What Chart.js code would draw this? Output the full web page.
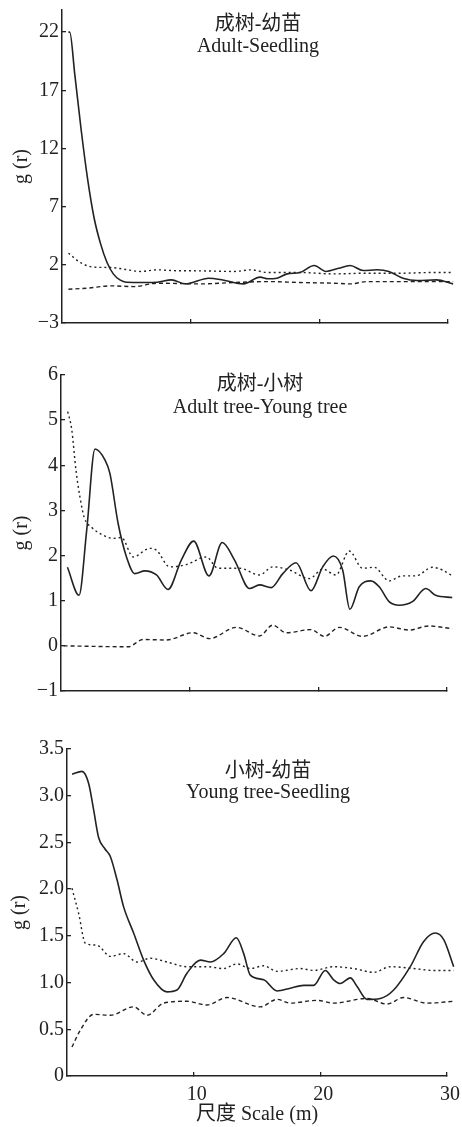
<!DOCTYPE html>
<html>
<head>
<meta charset="utf-8">
<script src="https://cdn.jsdelivr.net/npm/chart.js@4.4.1/dist/chart.umd.min.js"></script>
<style>
  body { margin: 0; background: #fff; }
  #wrap { position: relative; width: 462px; height: 1127px; overflow: hidden; }
  canvas { position: absolute; left: 0; }
</style>
</head>
<body>
<div id="wrap">
  <canvas id="panel1" style="top:-20px"></canvas>
  <canvas id="panel2" style="top:340px"></canvas>
  <canvas id="panel3" style="top:708px"></canvas>
</div>
<script>
// ========= Datos =========
// Adult-Seedling
const adSeedObsX = [0.5, 0.6, 1, 1.5, 2, 2.5, 3, 3.5, 4, 4.5, 5, 6.4, 7.4, 8.5, 9.6, 11.4, 12.5, 14.1, 15.4, 16, 16.7, 17.5, 18.5, 19.6, 20.5, 21.5, 22.4, 23.4, 24.5, 25.4, 26.5, 27.6, 29.1, 30.4];
const adSeedObsY = [22, 22, 18.3, 13.5, 9.3, 6, 3.8, 2.2, 1.2, 0.7, 0.5, 0.48, 0.5, 0.71, 0.36, 0.85, 0.7, 0.36, 0.94, 0.8, 0.85, 1.22, 1.34, 1.94, 1.43, 1.7, 1.94, 1.51, 1.57, 1.43, 0.85, 0.65, 0.71, 0.36];
const adSeedUpX = [0.5, 1.5, 2.5, 3.8, 4.8, 6.1, 7.4, 8.7, 10.8, 13.4, 14.7, 16, 18.5, 21.1, 23.7, 26.3, 28.8, 30.4];
const adSeedUpY = [3.0, 2.15, 1.8, 1.77, 1.63, 1.43, 1.57, 1.5, 1.48, 1.43, 1.57, 1.34, 1.34, 1.22, 1.28, 1.28, 1.34, 1.34];
const adSeedLowX = [0.5, 2, 3.8, 5.6, 7.4, 10.8, 13.4, 16, 18.5, 21.1, 22.4, 23.7, 26.3, 28.8, 30.4];
const adSeedLowY = [-0.1, 0, 0.19, 0.13, 0.42, 0.36, 0.48, 0.56, 0.48, 0.42, 0.36, 0.56, 0.56, 0.56, 0.56];

// Adult tree-Young tree
const adYoungObsX = [0.5, 1.4, 2.0, 2.64, 3.41, 3.8, 4.44, 5.09, 5.74, 6.51, 7.42, 8.32, 9.35, 10.31, 11.5, 12.53, 13.49, 14.65, 15.43, 16.33, 17.24, 18.27, 19.43, 20.34, 21.16, 21.89, 22.45, 23.18, 24.08, 24.73, 25.5, 26.28, 27.31, 28.35, 29.12, 30.41];
const adYoungObsY = [1.74, 1.12, 2.57, 4.36, 4.12, 3.82, 2.71, 1.97, 1.6, 1.66, 1.57, 1.25, 1.9, 2.32, 1.55, 2.29, 1.9, 1.27, 1.35, 1.29, 1.6, 1.84, 1.22, 1.75, 1.99, 1.68, 0.81, 1.31, 1.44, 1.31, 0.98, 0.9, 0.98, 1.27, 1.12, 1.07];
const adYoungUpX = [0.52, 0.83, 1.16, 1.47, 1.8, 2.4, 3.28, 4.06, 4.7, 5.61, 6.9, 7.42, 8.45, 9.74, 11.29, 12.2, 13.88, 15.43, 16.46, 17.75, 19.3, 20.34, 21.37, 22.4, 23.44, 24.34, 25.5, 26.54, 27.57, 28.86, 29.64, 30.41];
const adYoungUpY = [5.19, 4.8, 3.9, 3.3, 2.85, 2.62, 2.45, 2.38, 2.4, 1.97, 2.16, 2.12, 1.75, 1.8, 1.97, 1.72, 1.72, 1.57, 1.75, 1.68, 1.49, 1.7, 1.57, 2.1, 1.72, 1.74, 1.44, 1.55, 1.55, 1.74, 1.68, 1.55];
const adYoungLowX = [0.2, 5.22, 6.38, 8.19, 10.26, 11.55, 13.62, 15.43, 16.46, 17.49, 19.43, 20.47, 21.63, 23.44, 25.5, 27.05, 28.6, 30.41];
const adYoungLowY = [0, -0.02, 0.14, 0.13, 0.29, 0.16, 0.41, 0.22, 0.46, 0.29, 0.36, 0.21, 0.41, 0.21, 0.42, 0.35, 0.44, 0.38];

// Young tree-Seedling
const ySeedObsX = [0.4, 1.18, 1.71, 2.1, 2.5, 3.0, 3.42, 3.95, 4.47, 5.26, 6.05, 6.84, 7.89, 8.68, 9.47, 10.53, 11.32, 12.37, 13.37, 13.95, 14.47, 15.53, 16.58, 17.63, 18.68, 19.47, 20.39, 21.05, 21.58, 22.37, 22.89, 23.68, 24.74, 25.79, 27.1, 28.16, 29.08, 29.74, 30.53];
const ySeedObsY = [3.23, 3.26, 3.13, 2.85, 2.55, 2.43, 2.35, 2.1, 1.81, 1.53, 1.24, 1.03, 0.9, 0.92, 1.1, 1.24, 1.22, 1.31, 1.48, 1.31, 1.08, 1.03, 0.91, 0.94, 0.97, 0.97, 1.13, 1.03, 0.99, 1.05, 0.96, 0.82, 0.83, 0.92, 1.17, 1.44, 1.53, 1.46, 1.17];
const ySeedUpX = [0.39, 0.92, 1.45, 2.37, 3.42, 4.47, 5.53, 6.58, 7.89, 9.47, 11.05, 12.37, 13.42, 14.47, 15.53, 16.58, 18.42, 19.47, 21.05, 22.63, 24.21, 25.53, 27.37, 28.95, 30.53];
const ySeedUpY = [2.01, 1.74, 1.42, 1.4, 1.28, 1.31, 1.22, 1.26, 1.22, 1.17, 1.17, 1.15, 1.2, 1.15, 1.18, 1.12, 1.15, 1.13, 1.17, 1.15, 1.11, 1.17, 1.15, 1.13, 1.13];
const ySeedLowX = [0.39, 1.05, 2.1, 3.42, 5.26, 6.32, 7.63, 9.47, 11.05, 12.63, 15.26, 16.58, 17.63, 19.74, 21.05, 23.68, 25.26, 26.58, 28.42, 30.53];
const ySeedLowY = [0.31, 0.49, 0.66, 0.65, 0.74, 0.65, 0.78, 0.8, 0.76, 0.84, 0.74, 0.82, 0.78, 0.81, 0.78, 0.83, 0.77, 0.84, 0.78, 0.8];

// Ejes
const xTicks = [10, 20, 30];
const xLabels = ['10', '20', '30'];
const yTicks1 = [-3, 2, 7, 12, 17, 22];
const yLabels1 = ['\u22123', '2', '7', '12', '17', '22'];
const yTicks2 = [-1, 0, 1, 2, 3, 4, 5, 6];
const yLabels2 = ['\u22121', '0', '1', '2', '3', '4', '5', '6'];
const yTicks3 = [0, 0.5, 1.0, 1.5, 2.0, 2.5, 3.0, 3.5];
const yLabels3 = ['0', '0.5', '1.0', '1.5', '2.0', '2.5', '3.0', '3.5'];

const titles1 = ['成树-幼苗', 'Adult-Seedling'];
const titles2 = ['成树-小树', 'Adult tree-Young tree'];
const titles3 = ['小树-幼苗', 'Young tree-Seedling'];
const yTitle = 'g (r)';
const xTitle = '尺度 Scale (m)';

// ========= Estilo =========
const FONT = '"Liberation Serif", "Noto Sans CJK SC", serif';
const INK = '#222';
Chart.defaults.font.family = FONT;
Chart.defaults.font.size = 20;
Chart.defaults.color = INK;

function pts(xs, ys) {
    return xs.map((x, i) => ({ x: x, y: ys[i] }));
}

function serie(xs, ys, dash, width) {
    return {
        data: pts(xs, ys),
        borderColor: INK,
        borderWidth: width,
        borderDash: dash,
        pointRadius: 0,
        cubicInterpolationMode: 'monotone',
        clip: false,
        fill: false
    };
}

// texto dentro del panel
const panelText = {
    id: 'panelText',
    afterDraw(chart, args, opts) {
        const ctx = chart.ctx;
        const a = chart.chartArea;
        ctx.save();
        ctx.fillStyle = INK;
        ctx.font = '20px ' + FONT;
        ctx.textAlign = 'center';
        ctx.textBaseline = 'middle';
        opts.lines.forEach((t, i) => ctx.fillText(t, a.left + opts.dx, a.top + opts.dy[i]));
        ctx.restore();
    }
};

function crearPanel(id, cfg) {
    const canvas = document.getElementById(id);
    canvas.width = 462;
    canvas.height = cfg.height;
    canvas.style.width = '462px';
    canvas.style.height = cfg.height + 'px';
    return new Chart(canvas, {
        type: 'line',
        data: { datasets: cfg.datasets },
        plugins: [panelText],
        options: {
            responsive: false,
            animation: false,
            events: [],
            layout: { padding: { left: 0, top: cfg.top, right: cfg.right, bottom: 0 } },
            plugins: {
                legend: { display: false },
                tooltip: { enabled: false },
                panelText: { lines: cfg.lines, dx: cfg.textX, dy: cfg.textY }
            },
            scales: {
                x: {
                    type: 'linear',
                    min: 0,
                    max: 30,
                    afterBuildTicks: s => { s.ticks = xTicks.map(v => ({ value: v })); },
                    afterFit: s => {
                        s.height = cfg.xHeight;
                        // que las etiquetas no encojan el área del gráfico
                        s.paddingLeft = 0;
                        s.paddingRight = 0;
                    },
                    grid: { drawOnChartArea: false, drawTicks: true, tickLength: -4, color: INK, lineWidth: 1.3 },
                    border: { display: true, color: INK, width: 1.5 },
                    ticks: {
                        display: cfg.showX,
                        padding: 11,
                        labelOffset: 3,
                        maxRotation: 0,
                        autoSkip: false,
                        callback: (v, i) => xLabels[i]
                    },
                    title: { display: cfg.showX, text: xTitle, padding: { top: 0, bottom: 0 } }
                },
                y: {
                    min: cfg.yMin,
                    max: cfg.yMax,
                    afterBuildTicks: s => { s.ticks = cfg.yTicks.map(v => ({ value: v })); },
                    afterFit: s => { s.width = cfg.yWidth; },
                    grid: { drawOnChartArea: false, drawTicks: true, tickLength: -4, color: INK, lineWidth: 1.3 },
                    border: { display: true, color: INK, width: 1.5 },
                    ticks: {
                        padding: 7,
                        autoSkip: false,
                        callback: (v, i) => cfg.yLabels[i]
                    },
                    title: { display: true, text: yTitle, padding: { top: cfg.yTitlePad, bottom: 0 } }
                }
            }
        }
    });
}

document.addEventListener('DOMContentLoaded', () => {
    crearPanel('panel1', {
        height: 368, top: 30, right: 14, yWidth: 62, xHeight: 25,
        yMin: -3, yMax: 23.9, yTicks: yTicks1, yLabels: yLabels1, yTitlePad: 10,
        showX: false, lines: titles1, textX: 196, textY: [15, 37],
        datasets: [
            serie(adSeedObsX, adSeedObsY, [], 1.6),
            serie(adSeedUpX, adSeedUpY, [2, 3], 1.4),
            serie(adSeedLowX, adSeedLowY, [4, 3], 1.4)
        ]
    });
    crearPanel('panel2', {
        height: 380, top: 35, right: 15, yWidth: 61, xHeight: 29,
        yMin: -1, yMax: 6, yTicks: yTicks2, yLabels: yLabels2, yTitlePad: 10,
        showX: false, lines: titles2, textX: 199, textY: [10, 33],
        datasets: [
            serie(adYoungObsX, adYoungObsY, [], 1.6),
            serie(adYoungUpX, adYoungUpY, [2, 3], 1.4),
            serie(adYoungLowX, adYoungLowY, [4, 3], 1.4)
        ]
    });
    crearPanel('panel3', {
        height: 419, top: 41, right: 15, yWidth: 67, xHeight: 51,
        yMin: 0, yMax: 3.5, yTicks: yTicks3, yLabels: yLabels3, yTitlePad: 8,
        showX: true, lines: titles3, textX: 201, textY: [23, 44],
        datasets: [
            serie(ySeedObsX, ySeedObsY, [], 1.6),
            serie(ySeedUpX, ySeedUpY, [2, 3], 1.4),
            serie(ySeedLowX, ySeedLowY, [4, 3], 1.4)
        ]
    });
});
</script>
</body>
</html>
